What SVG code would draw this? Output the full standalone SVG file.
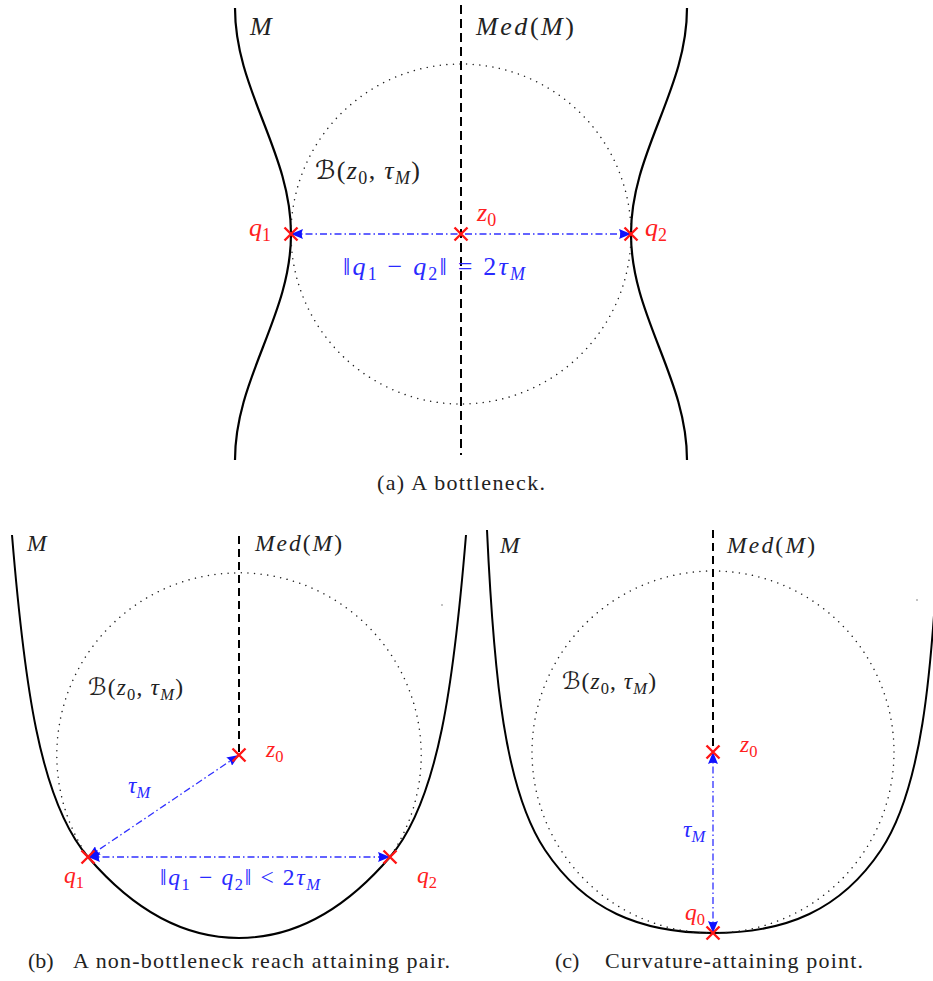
<svg xmlns="http://www.w3.org/2000/svg" xmlns:xlink="http://www.w3.org/1999/xlink" width="933" height="981" viewBox="0 0 933 981">
<style>
.curve{fill:none;stroke:#000;stroke-width:2.2}
.med{fill:none;stroke:#000;stroke-width:2;stroke-dasharray:9 5}
.ball{fill:none;stroke:#222;stroke-width:1.5;stroke-dasharray:0.01 6.6;stroke-linecap:round}
.arr{fill:none;stroke:#3030ff;stroke-width:1.3;stroke-dasharray:7 3 1.5 3;marker-start:url(#ah);marker-end:url(#ah)}
.xm{fill:none;stroke:#ff1515;stroke-width:2.4}
.m{font-style:italic;fill:#222}
.up{font-style:normal}
.red{fill:#ff2020}
.blue{fill:#2a2aff}
.cap{font-size:22px;fill:#222}
.fa{font-size:26px}
.fb{font-size:23.5px}
.sa{font-size:18px}
.sb{font-size:16.5px}
</style>
<defs>
<marker id="ah" viewBox="0 0 12 10" refX="12" refY="5" markerWidth="12" markerHeight="10" markerUnits="userSpaceOnUse" orient="auto-start-reverse">
<path d="M0,0 L12,5 L0,10 Q2.5,5 0,0 z" fill="#1010ff"/>
</marker>
<path id="x" class="xm" d="M-6.5,-6.5 L6.5,6.5 M-6.5,6.5 L6.5,-6.5"/>
</defs>

<!-- Panel (a) -->
<g id="panel-a">
<path class="curve" d="M235,8 C235,48.9 248.66,84.14 263,121 C277.34,157.86 291,193.1 291,234 C291,274.9 277.34,310.14 263,347 C248.66,383.86 235,419.1 235,460"/>
<path class="curve" d="M687,8 C687,48.9 673.34,84.14 659,121 C644.66,157.86 631,193.1 631,234 C631,274.9 644.66,310.14 659,347 C673.34,383.86 687,419.1 687,460"/>
<circle class="ball" cx="461" cy="234" r="170"/>
<line class="med" x1="461" y1="5" x2="461" y2="455"/>
<text font-family="Times New Roman" class="m fa" x="250" y="35" textLength="22">M</text>
<text font-family="Times New Roman" class="m fa" x="476" y="35" textLength="98">Med<tspan class="up">(</tspan>M<tspan class="up">)</tspan></text>
<text font-family="Times New Roman" class="m fa" x="315" y="179" textLength="105"><tspan class="up" font-family="DejaVu Sans">ℬ</tspan><tspan class="up">(</tspan>z<tspan class="up sa" dy="5">0</tspan><tspan class="up" dy="-5">, </tspan>τ<tspan class="sa" dy="5">M</tspan><tspan class="up" dy="-5">)</tspan></text>
<text font-family="Times New Roman" class="m fa blue" x="343" y="275" textLength="182"><tspan class="up">‖</tspan>q<tspan class="up sa" dy="5">1</tspan><tspan class="up" dy="-5"> − </tspan>q<tspan class="up sa" dy="5">2</tspan><tspan class="up" dy="-5">‖ = 2</tspan>τ<tspan class="sa" dy="5">M</tspan></text>
<text font-family="Times New Roman" class="cap" x="377" y="490" textLength="168">(a) A bottleneck.</text>
</g>

<!-- Panel (b) -->
<g id="panel-b">
<path class="curve" style="stroke-width:2" d="M12,535 C24,680 39,800 88,857 C130,906 180,938 239,938 C298,938 348,906 390,857 C439,800 454,680 466,535"/>
<path class="ball" d="M88,857 A182.2,182.2 0 1 1 390,857"/>
<line class="med" x1="239" y1="536" x2="239" y2="752" style="stroke-dasharray:8 5"/>
<circle cx="442" cy="605" r="0.8" fill="#777"/>
<text font-family="Times New Roman" class="m fb" x="27" y="551" textLength="20">M</text>
<text font-family="Times New Roman" class="m fb" x="255" y="551" textLength="87">Med<tspan class="up">(</tspan>M<tspan class="up">)</tspan></text>
<text font-family="Times New Roman" class="m fb" x="88" y="695" textLength="95"><tspan class="up" font-family="DejaVu Sans">ℬ</tspan><tspan class="up">(</tspan>z<tspan class="up sb" dy="4.5">0</tspan><tspan class="up" dy="-4.5">, </tspan>τ<tspan class="sb" dy="4.5">M</tspan><tspan class="up" dy="-4.5">)</tspan></text>
<text font-family="Times New Roman" class="m fb blue" x="128" y="793">τ<tspan class="sb" dy="4.5">M</tspan></text>
<text font-family="Times New Roman" class="m fb blue" x="160" y="885" textLength="160"><tspan class="up">‖</tspan>q<tspan class="up sb" dy="4.5">1</tspan><tspan class="up" dy="-4.5"> − </tspan>q<tspan class="up sb" dy="4.5">2</tspan><tspan class="up" dy="-4.5">‖ &lt; 2</tspan>τ<tspan class="sb" dy="4.5">M</tspan></text>
<text font-family="Times New Roman" class="cap" x="28" y="968">(b)</text>
<text font-family="Times New Roman" class="cap" x="73" y="968" textLength="377">A non-bottleneck reach attaining pair.</text>
</g>

<!-- Panel (c) -->
<g id="panel-c">
<path class="curve" style="stroke-width:2" d="M487,530 C494,680 505,790 545,850 C585,910 640,933 713,933 C786,933 841,910 881,850 C921,790 932,680 939,530"/>
<circle class="ball" cx="713" cy="752" r="181"/>
<line class="med" x1="713" y1="530" x2="713" y2="750" style="stroke-dasharray:8 5"/>
<circle cx="917" cy="600" r="0.8" fill="#777"/>
<text font-family="Times New Roman" class="m fb" x="500" y="553" textLength="20">M</text>
<text font-family="Times New Roman" class="m fb" x="727" y="553" textLength="88">Med<tspan class="up">(</tspan>M<tspan class="up">)</tspan></text>
<text font-family="Times New Roman" class="m fb" x="562" y="689" textLength="94"><tspan class="up" font-family="DejaVu Sans">ℬ</tspan><tspan class="up">(</tspan>z<tspan class="up sb" dy="4.5">0</tspan><tspan class="up" dy="-4.5">, </tspan>τ<tspan class="sb" dy="4.5">M</tspan><tspan class="up" dy="-4.5">)</tspan></text>
<text font-family="Times New Roman" class="m fb blue" x="683" y="837">τ<tspan class="sb" dy="4.5">M</tspan></text>
<text font-family="Times New Roman" class="cap" x="555" y="968">(c)</text>
<text font-family="Times New Roman" class="cap" x="605" y="968" textLength="258">Curvature-attaining point.</text>
</g>

<!-- Connectors -->
<g id="connectors">
<line class="arr" x1="291" y1="234" x2="631" y2="234"/>
<line class="arr" x1="88" y1="857" x2="239" y2="755"/>
<line class="arr" x1="88" y1="857" x2="390" y2="857"/>
<line class="arr" x1="713" y1="933" x2="713" y2="752"/>
</g>

<!-- Point nodes -->
<g id="a-q1"><use xlink:href="#x" x="291" y="234"/><text font-family="Times New Roman" class="m fa red" x="249" y="236">q<tspan class="up sa" dy="5">1</tspan></text></g>
<g id="a-z0"><use xlink:href="#x" x="461" y="234"/><text font-family="Times New Roman" class="m fa red" x="477" y="221">z<tspan class="up sa" dy="5">0</tspan></text></g>
<g id="a-q2"><use xlink:href="#x" x="631" y="234"/><text font-family="Times New Roman" class="m fa red" x="645" y="236">q<tspan class="up sa" dy="5">2</tspan></text></g>

<g id="b-z0"><use xlink:href="#x" x="239" y="755"/><text font-family="Times New Roman" class="m fb red" x="266" y="757">z<tspan class="up sb" dy="4.5">0</tspan></text></g>
<g id="b-q1"><use xlink:href="#x" x="88" y="857"/><text font-family="Times New Roman" class="m fb red" x="64" y="883">q<tspan class="up sb" dy="4.5">1</tspan></text></g>
<g id="b-q2"><use xlink:href="#x" x="390" y="857"/><text font-family="Times New Roman" class="m fb red" x="417" y="883">q<tspan class="up sb" dy="4.5">2</tspan></text></g>

<g id="c-z0"><use xlink:href="#x" x="713" y="752"/><text font-family="Times New Roman" class="m fb red" x="740" y="752">z<tspan class="up sb" dy="4.5">0</tspan></text></g>
<g id="c-q0"><use xlink:href="#x" x="713" y="933"/><text font-family="Times New Roman" class="m fb red" x="685" y="920">q<tspan class="up sb" dy="4.5">0</tspan></text></g>
</svg>
